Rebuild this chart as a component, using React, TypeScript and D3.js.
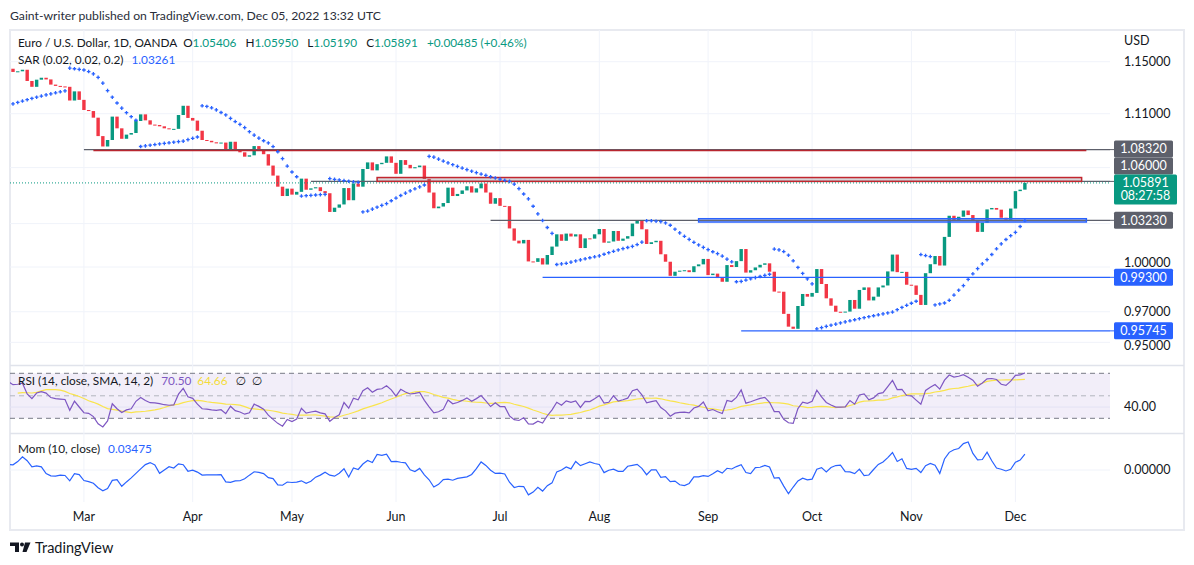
import * as d3 from 'd3';

// Daily closes, EUR/USD (OANDA). Open of each bar = previous close.
// history before the first visible bar, only used to warm up RSI / Mom / SAR
const warmupCloses = [
  1.1295, 1.1285, 1.1310, 1.1295, 1.1360, 1.1325, 1.1370, 1.1440, 1.1455, 1.1410,
  1.1405, 1.1325, 1.1345, 1.1310, 1.1345, 1.1325, 1.1305, 1.1240, 1.1145, 1.1145,
  1.1235, 1.1270, 1.1305, 1.1440, 1.1450, 1.1445,
];
const closesFeb = [1.1420, 1.1425, 1.1437, 1.1350, 1.1305, 1.1360, 1.1375, 1.1362, 1.1322, 1.1312, 1.1308, 1.1305, 1.1200, 1.1270, 1.1205];
const closesMar = [1.1128, 1.1120, 1.1070, 1.0932, 1.0855, 1.0903, 1.1078, 1.0990, 1.0912, 1.0943, 1.0955, 1.1045, 1.1095, 1.1050, 1.1018, 1.1015, 1.1005, 1.0990, 1.0983, 1.0986, 1.1090, 1.1160, 1.1068];
const closesApr = [1.1048, 1.0972, 1.0903, 1.0897, 1.0886, 1.0878, 1.0884, 1.0830, 1.0890, 1.0830, 1.0812, 1.0780, 1.0790, 1.0858, 1.0832, 1.0798, 1.0715, 1.0642, 1.0562, 1.0495, 1.0548];
const closesMay = [1.0505, 1.0525, 1.0620, 1.0540, 1.0550, 1.0558, 1.0530, 1.0515, 1.0382, 1.0412, 1.0435, 1.0552, 1.0465, 1.0585, 1.0562, 1.0690, 1.0738, 1.0680, 1.0725, 1.0735, 1.0782, 1.0735];
const closesJun = [1.0655, 1.0755, 1.0720, 1.0695, 1.0703, 1.0715, 1.0618, 1.0520, 1.0408, 1.0420, 1.0445, 1.0555, 1.0495, 1.0510, 1.0535, 1.0565, 1.0520, 1.0550, 1.0585, 1.0520, 1.0440, 1.0480];
const closesJul = [1.0425, 1.0423, 1.0266, 1.0181, 1.0162, 1.0186, 1.0038, 1.0035, 1.0060, 1.0017, 1.0082, 1.0140, 1.0225, 1.0180, 1.0230, 1.0210, 1.0225, 1.0130, 1.0197, 1.0195, 1.0225];
const closesAug = [1.0262, 1.0167, 1.0175, 1.0248, 1.0180, 1.0195, 1.0212, 1.0300, 1.0320, 1.0260, 1.0158, 1.0170, 1.0180, 1.0087, 1.0036, 0.9940, 0.9968, 0.9975, 0.9978, 0.9965, 1.0005, 1.0018, 1.0055];
const closesSep = [0.9945, 0.9955, 0.9925, 0.9900, 1.0013, 1.0000, 1.0040, 1.0123, 0.9962, 0.9978, 0.9997, 1.0015, 1.0025, 0.9968, 0.9834, 0.9833, 0.9686, 0.9602, 0.9588, 0.9738, 0.9818, 0.9800];
const closesOct = [0.9825, 0.9986, 0.9885, 0.9789, 0.9740, 0.9700, 0.9697, 0.9701, 0.9778, 0.9720, 0.9845, 0.9862, 0.9775, 0.9800, 0.9862, 0.9875, 0.9970, 1.0085, 0.9965, 0.9967, 0.9880];
const closesNov = [0.9875, 0.9812, 0.9745, 0.9958, 1.0019, 1.0075, 1.0010, 1.0207, 1.0355, 1.0325, 1.0348, 1.0392, 1.0360, 1.0322, 1.0242, 1.0306, 1.0400, 1.0410, 1.0398, 1.0341, 1.0327, 1.0406];
const closesDec = [1.0530, 1.05406, 1.05891];

// horizontal drawings: price and first bar index
const hLevels = [
  { price: 1.0832, from: 15, color: '#5d606b' },
  { price: 1.0600, from: 63, color: '#5d606b' },
  { price: 1.0323, from: 101, color: '#5d606b' },
  { price: 0.9930, from: 112, color: '#2962ff' },
  { price: 0.95745, from: 154, color: '#2962ff' },
];
const redLine = { price: 1.0832, from: 17, to: 227 };
const zones = [
  { top: 1.0628, bottom: 1.0600, from: 77, to: 226, color: '#c2262e' },
  { top: 1.0334, bottom: 1.0311, from: 145, to: 227, color: '#2962ff' },
];
const priceTicks = [0.95, 0.97, 1.0, 1.03, 1.07, 1.11, 1.15];

const UP = '#089981';
const DOWN = '#f23645';
const FONT = "Lato, Roboto, 'DejaVu Sans', sans-serif";

const visible = [
  ...closesFeb, ...closesMar, ...closesApr, ...closesMay, ...closesJun, ...closesJul,
  ...closesAug, ...closesSep, ...closesOct, ...closesNov, ...closesDec,
];
const all = [...warmupCloses, ...visible];
const off = warmupCloses.length;

function tradingDays(start: Date, n: number) {
  const out: Date[] = [];
  const d = new Date(start);
  while (out.length < n) {
    const wd = d.getDay();
    if (wd !== 0 && wd !== 6) out.push(new Date(d));
    d.setDate(d.getDate() + 1);
  }
  return out;
}

function rsi(src: number[], len: number) {
  const out = src.map(() => NaN);
  let up = 0, dn = 0;
  for (let i = 1; i < src.length; i++) {
    const ch = src[i] - src[i - 1];
    const u = Math.max(ch, 0), d = Math.max(-ch, 0);
    if (i <= len) {
      up += u; dn += d;
      if (i === len) { up /= len; dn /= len; }
      else continue;
    } else {
      up = (up * (len - 1) + u) / len;
      dn = (dn * (len - 1) + d) / len;
    }
    out[i] = dn === 0 ? 100 : 100 - 100 / (1 + up / dn);
  }
  return out;
}

function sma(src: number[], len: number) {
  return src.map((_, i) => {
    if (i < len - 1) return NaN;
    const s = src.slice(i - len + 1, i + 1);
    return s.some(v => isNaN(v)) ? NaN : d3.mean(s)!;
  });
}

// same steps as pine's ta.sar
function parabolicSar(high: number[], low: number[], close: number[], start = 0.02, inc = 0.02, max = 0.2) {
  const out = close.map(() => NaN);
  let result = NaN, maxMin = NaN, acc = start, isBelow = true;
  for (let i = 1; i < close.length; i++) {
    let first = false;
    if (i === 1) {
      if (close[1] > close[0]) { isBelow = true; maxMin = high[1]; result = low[0]; }
      else { isBelow = false; maxMin = low[1]; result = high[0]; }
      first = true; acc = start;
    }
    result = result + acc * (maxMin - result);
    if (isBelow) {
      if (result > low[i]) { first = true; isBelow = false; result = Math.max(high[i], maxMin); maxMin = low[i]; acc = start; }
    } else if (result < high[i]) {
      first = true; isBelow = true; result = Math.min(low[i], maxMin); maxMin = high[i]; acc = start;
    }
    if (!first) {
      if (isBelow && high[i] > maxMin) { maxMin = high[i]; acc = Math.min(acc + inc, max); }
      if (!isBelow && low[i] < maxMin) { maxMin = low[i]; acc = Math.min(acc + inc, max); }
    }
    if (isBelow) { result = Math.min(result, low[i - 1]); if (i > 1) result = Math.min(result, low[i - 2]); }
    else { result = Math.max(result, high[i - 1]); if (i > 1) result = Math.max(result, high[i - 2]); }
    out[i] = result;
  }
  return out;
}

export default function App() {
  const W = 1194, H = 565;
  const left = 10, plotRight = 1110, frameRight = 1184;
  const paneTop = 30, paneBottom = 365, rsiTop = 366, rsiBottom = 433, momTop = 434, momBottom = 502;

  const opens = all.map((c, i) => (i === 0 ? c : all[i - 1]));
  const highs = all.map((c, i) => Math.max(c, opens[i]));
  const lows = all.map((c, i) => Math.min(c, opens[i]));
  const sar = parabolicSar(highs, lows, all);
  const rsiVals = rsi(all, 14);
  const rsiMa = sma(rsiVals, 14);
  const mom = all.map((c, i) => (i >= 10 ? c - all[i - 10] : NaN));

  const dates = tradingDays(new Date(2022, 1, 8), visible.length);
  const monthTicks = dates
    .map((d, i) => ({ d, i }))
    .filter(({ d, i }) => i > 0 && d.getMonth() !== dates[i - 1].getMonth());

  const x = d3.scaleLinear().domain([0, 232]).range([13, plotRight]);
  const y = d3.scaleLog().domain([1, 1.15]).range([267, 267 - 1469 * Math.log(1.15)]);
  const yRsi = d3.scaleLinear().domain([30, 70]).range([418.3, 373.3]);
  const yMom = d3.scaleLinear().domain([0, 0.05]).range([470, 447.25]);

  const bars = all.map((c, i) => ({ i: i - off, o: opens[i], c, sar: sar[i], r: rsiVals[i], ma: rsiMa[i], m: mom[i] }))
    .filter(b => b.i >= -1);

  const rsiLine = d3.line<typeof bars[0]>().defined(b => !isNaN(b.r)).x(b => x(b.i)).y(b => yRsi(b.r));
  const maLine = d3.line<typeof bars[0]>().defined(b => !isNaN(b.ma)).x(b => x(b.i)).y(b => yRsi(b.ma));
  const momLine = d3.line<typeof bars[0]>().defined(b => !isNaN(b.m)).x(b => x(b.i)).y(b => yMom(b.m));

  const last = visible[visible.length - 1];
  const yLast = y(last);
  const curTop = yLast - 8.5;
  const lbl1060 = Math.min(y(1.06), curTop - 8.5);
  const lbl1083 = Math.min(y(1.0832), lbl1060 - 17);
  const boxCenters = [lbl1083, lbl1060, y(1.0323), y(0.993), y(0.95745), yLast];
  // tick labels fully under a price label box are not drawn; ones partly under it are nudged clear
  const shownTicks = priceTicks
    .filter(p => boxCenters.every(c => Math.abs(c - y(p)) > 9))
    .map(p => {
      let ty = y(p);
      boxCenters.forEach(c => {
        if (Math.abs(c - ty) < 15) ty = c > ty ? c - 15 : c + 14.5;
      });
      return { p, ty };
    });

  const axisLabel = (cy: number, text: string, fill: string) => (
    <g key={text}>
      <rect x={1114} y={cy - 8.5} width={59} height={17} fill={fill} rx={1.5} />
      <text x={1143.5} y={cy + 4.3} textAnchor="middle" fill="#fff" fontSize={12.5}>{text}</text>
    </g>
  );

  return (
    <svg width={W} height={H} style={{ position: 'absolute', left: 0, top: 0, background: '#fff' }} fontFamily={FONT}>
      <defs>
        <clipPath id="cp-price"><rect x={left} y={paneTop} width={plotRight - left} height={paneBottom - paneTop} /></clipPath>
        <clipPath id="cp-rsi"><rect x={left} y={rsiTop} width={plotRight - left} height={rsiBottom - rsiTop} /></clipPath>
        <clipPath id="cp-mom"><rect x={left} y={momTop} width={plotRight - left} height={momBottom - momTop} /></clipPath>
      </defs>

      <text x={10} y={19.5} fontSize={12.2} fill="#2a2e39">Gaint-writer published on TradingView.com, Dec 05, 2022 13:32 UTC</text>

      {/* frame */}
      <rect x={left} y={paneTop} width={frameRight - left} height={530 - paneTop} fill="none" stroke="#e8eaf0" strokeWidth={2} />
      <line x1={left} x2={frameRight} y1={365.5} y2={365.5} stroke="#e0e3eb" strokeWidth={1.5} />
      <line x1={left} x2={frameRight} y1={433.5} y2={433.5} stroke="#e0e3eb" strokeWidth={1.5} />

      {/* grid */}
      {monthTicks.map(({ i }) => (
        <line key={'vg' + i} x1={x(i)} x2={x(i)} y1={paneTop} y2={momBottom} stroke="#f0f3fa" />
      ))}
      {priceTicks.map(p => (
        <line key={'hg' + p} x1={left} x2={plotRight} y1={y(p)} y2={y(p)} stroke="#f0f3fa" />
      ))}
      <line x1={left} x2={plotRight} y1={yRsi(40)} y2={yRsi(40)} stroke="#f0f3fa" />
      <line x1={left} x2={plotRight} y1={yMom(0)} y2={yMom(0)} stroke="#f0f3fa" />

      {/* price pane */}
      <g clipPath="url(#cp-price)">
        {bars.map(b => {
          const y0 = y(b.o), y1 = y(b.c);
          const top = Math.min(y0, y1);
          const h = Math.max(1, Math.abs(y1 - y0));
          return <rect key={'c' + b.i} x={x(b.i) - 1.7} y={top} width={3.4} height={h} fill={b.c >= b.o ? UP : DOWN} />;
        })}
        {hLevels.map(l => (
          <line key={'hl' + l.price} x1={x(l.from)} x2={plotRight} y1={y(l.price)} y2={y(l.price)} stroke={l.color} strokeWidth={1.2} />
        ))}
        <line x1={x(redLine.from)} x2={x(redLine.to)} y1={y(redLine.price) + 1} y2={y(redLine.price) + 1} stroke="#b8262f" strokeWidth={1.5} />
        {zones.map(z => (
          <rect key={'z' + z.top} x={x(z.from)} y={y(z.top)} width={x(z.to) - x(z.from)} height={y(z.bottom) - y(z.top)}
            fill="rgba(120,123,134,0.3)" stroke={z.color} strokeWidth={1.5} />
        ))}
        <line x1={left} x2={plotRight} y1={yLast} y2={yLast} stroke={UP} strokeWidth={1} strokeDasharray="1 2" />
        {bars.filter(b => !isNaN(b.sar)).map(b => {
          const cx = x(b.i), cy = y(b.sar);
          return (
            <path key={'s' + b.i} d={`M${cx - 1.8},${cy}H${cx + 1.8}M${cx},${cy - 1.8}V${cy + 1.8}`} stroke="#2962ff" strokeWidth={1.3} />
          );
        })}
      </g>

      {/* legends */}
      <text x={18} y={47} fontSize={11.8} fill="#131722">
        <tspan>Euro / U.S. Dollar, 1D, OANDA</tspan>
        <tspan dx={6}>O</tspan><tspan fill={UP}>1.05406</tspan>
        <tspan dx={9}>H</tspan><tspan fill={UP}>1.05950</tspan>
        <tspan dx={9}>L</tspan><tspan fill={UP}>1.05190</tspan>
        <tspan dx={9}>C</tspan><tspan fill={UP}>1.05891</tspan>
        <tspan dx={9} fill={UP}>+0.00485 (+0.46%)</tspan>
      </text>
      <text x={18} y={64} fontSize={11.8} fill="#131722">
        <tspan>SAR (0.02, 0.02, 0.2)</tspan>
        <tspan dx={8} fill="#2962ff">1.03261</tspan>
      </text>

      {/* RSI pane */}
      <rect x={left} y={yRsi(70)} width={plotRight - left} height={yRsi(30) - yRsi(70)} fill="rgba(126,87,194,0.1)" />
      <line x1={left} x2={plotRight} y1={yRsi(70)} y2={yRsi(70)} stroke="#787b86" strokeDasharray="5 4" />
      <line x1={left} x2={plotRight} y1={yRsi(50)} y2={yRsi(50)} stroke="#b2b5be" strokeDasharray="5 4" />
      <line x1={left} x2={plotRight} y1={yRsi(30)} y2={yRsi(30)} stroke="#787b86" strokeDasharray="5 4" />
      <g clipPath="url(#cp-rsi)">
        <path d={maLine(bars) ?? ''} fill="none" stroke="#f9e44c" strokeWidth={1.2} />
        <path d={rsiLine(bars) ?? ''} fill="none" stroke="#7e57c2" strokeWidth={1.2} />
      </g>
      <text x={18} y={385} fontSize={11.8} fill="#131722">
        <tspan>RSI (14, close, SMA, 14, 2)</tspan>
        <tspan dx={8} fill="#7e57c2">70.50</tspan>
        <tspan dx={6} fill="#f4dc3a">64.66</tspan>
        <tspan dx={8}>∅</tspan>
        <tspan dx={6}>∅</tspan>
      </text>

      {/* Mom pane */}
      <g clipPath="url(#cp-mom)">
        <path d={momLine(bars) ?? ''} fill="none" stroke="#2962ff" strokeWidth={1.2} />
      </g>
      <text x={18} y={453} fontSize={11.8} fill="#131722">
        <tspan>Mom (10, close)</tspan>
        <tspan dx={8} fill="#2962ff">0.03475</tspan>
      </text>

      {/* time axis */}
      {monthTicks.map(({ d, i }) => (
        <text key={'mt' + i} x={x(i)} y={521} textAnchor="middle" fontSize={12.5} fill="#131722">
          {d3.timeFormat('%b')(d)}
        </text>
      ))}

      {/* price axis */}
      <text x={1124} y={45} fontSize={12.5} fill="#131722">USD</text>
      {shownTicks.map(({ p, ty }) => (
        <text key={'pt' + p} x={1124} y={ty + 4.3} fontSize={12.5} fill="#131722">{p.toFixed(5)}</text>
      ))}
      <text x={1124} y={yRsi(40) + 4.3} fontSize={12.5} fill="#131722">40.00</text>
      <text x={1124} y={yMom(0) + 4.3} fontSize={12.5} fill="#131722">0.00000</text>
      {hLevels.map(l => (
        <line key={'tl' + l.price} x1={plotRight} x2={1114} y1={y(l.price)} y2={y(l.price)} stroke={l.color} />
      ))}
      {axisLabel(lbl1083, '1.08320', '#5d606b')}
      {axisLabel(lbl1060, '1.06000', '#5d606b')}
      {axisLabel(y(1.0323), '1.03230', '#5d606b')}
      {axisLabel(y(0.993), '0.99300', '#2962ff')}
      {axisLabel(y(0.95745), '0.95745', '#2962ff')}
      <rect x={1114} y={curTop} width={63} height={30} fill={UP} rx={1.5} />
      <text x={1145.5} y={curTop + 13} textAnchor="middle" fill="#fff" fontSize={12.5}>{last.toFixed(5)}</text>
      <text x={1145.5} y={curTop + 26} textAnchor="middle" fill="#fff" fontSize={12.5}>08:27:58</text>

      {/* logo */}
      <g fill="#131722">
        <path d="M10,542.5H19V552H15V546H10Z" />
        <circle cx={22} cy={544.5} r={2} />
        <path d="M25,542.5H30.5L26.5,552H22.5Z" />
      </g>
      <text x={35} y={553} fontSize={14.5} fill="#131722">TradingView</text>
    </svg>
  );
}
